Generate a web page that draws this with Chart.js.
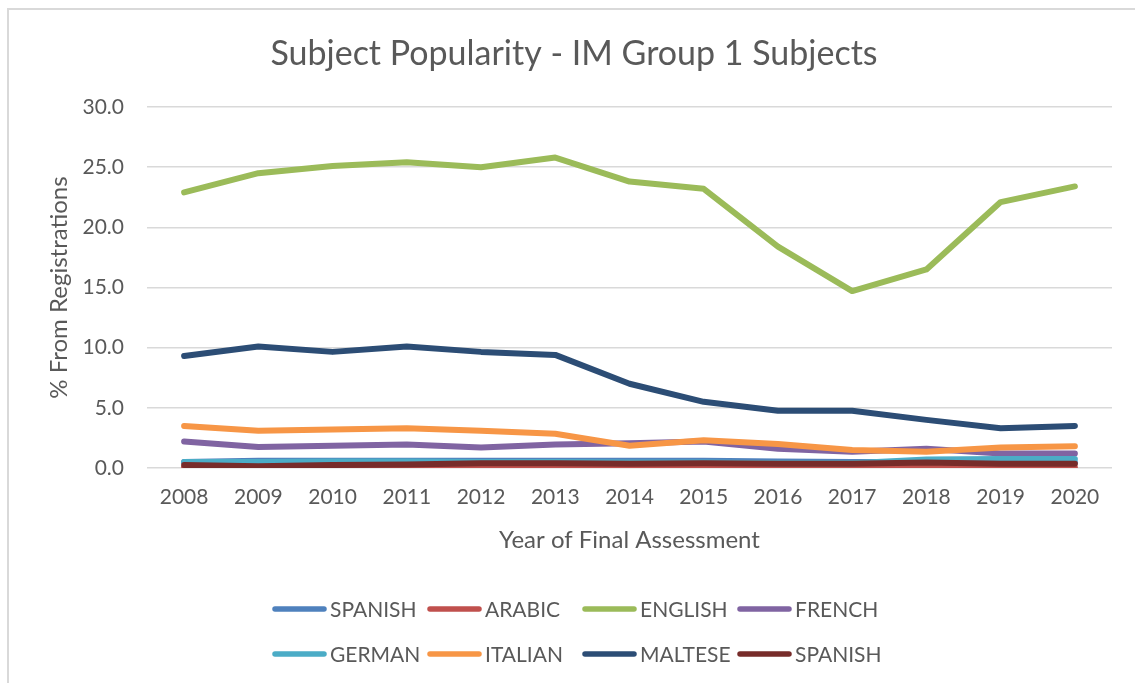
<!DOCTYPE html>
<html>
<head>
<meta charset="utf-8">
<script src="https://cdn.jsdelivr.net/npm/chart.js@4/dist/chart.umd.min.js"></script>
<style>
  html, body { margin: 0; padding: 0; background: #fff; overflow: hidden; }
  #frame { position: absolute; left: 7px; top: 8px; width: 1300px; height: 900px; border: 2px solid #d9d9d9; box-sizing: border-box; }
  #c { position: absolute; left: 0; top: 0; }
</style>
</head>
<body>
<div id="frame"></div>
<canvas id="c" width="1135" height="683"></canvas>
<script>
const years = ['2008','2009','2010','2011','2012','2013','2014','2015','2016','2017','2018','2019','2020'];
const seriesNames = ['SPANISH','ARABIC','ENGLISH','FRENCH','GERMAN','ITALIAN','MALTESE','SPANISH'];
const seriesColors = ['#4F81BD','#C0504D','#9BBB59','#8064A2','#4BACC6','#F79646','#2C4D75','#772C2A'];

const spanish1 = [0.50, 0.60, 0.60, 0.60, 0.60, 0.60, 0.60, 0.60, 0.55, 0.50, 0.50, 0.45, 0.45];
const arabic   = [0.05, 0.05, 0.05, 0.05, 0.05, 0.05, 0.05, 0.05, 0.05, 0.05, 0.05, 0.05, 0.05];
const english  = [22.9, 24.5, 25.1, 25.4, 25.0, 25.8, 23.8, 23.2, 18.4, 14.7, 16.5, 22.1, 23.4];
const french   = [2.2, 1.75, 1.85, 1.95, 1.7, 1.95, 2.05, 2.2, 1.6, 1.35, 1.6, 1.2, 1.2];
const german   = [0.50, 0.50, 0.55, 0.55, 0.50, 0.50, 0.45, 0.45, 0.40, 0.40, 0.70, 0.75, 0.75];
const italian  = [3.5, 3.1, 3.2, 3.3, 3.1, 2.85, 1.85, 2.3, 2.0, 1.5, 1.35, 1.7, 1.8];
const maltese  = [9.3, 10.1, 9.65, 10.1, 9.65, 9.4, 7.0, 5.5, 4.75, 4.75, 4.0, 3.3, 3.5];
const spanish2 = [0.25, 0.15, 0.25, 0.30, 0.40, 0.40, 0.35, 0.40, 0.35, 0.35, 0.45, 0.35, 0.35];

const seriesValues = [spanish1, arabic, english, french, german, italian, maltese, spanish2];
const yTicks = [0, 5, 10, 15, 20, 25, 30];

const TEXT = '#595959';
const FONT = 'Lato, "Open Sans", sans-serif';

const datasets = seriesNames.map((name, i) => ({
  label: name,
  data: seriesValues[i],
  borderColor: seriesColors[i],
  backgroundColor: seriesColors[i],
  borderWidth: 6,
  pointRadius: 0,
  pointHoverRadius: 0,
  tension: 0,
  borderCapStyle: 'round',
  borderJoinStyle: 'round',
  fill: false,
  order: seriesNames.length - i
}));

const legendPlugin = {
  id: 'excelLegend',
  afterDraw(chart) {
    const ctx = chart.ctx;
    const colW = 155;
    const start = Math.round(chart.width / 2 - 296);
    const rows = [609, 654];
    ctx.save();
    ctx.font = '21px ' + FONT;
    ctx.textBaseline = 'middle';
    ctx.textAlign = 'left';
    chart.data.datasets.forEach((ds, i) => {
      const col = i % 4, row = Math.floor(i / 4);
      const x0 = start + col * colW;
      const y = rows[row];
      ctx.strokeStyle = ds.borderColor;
      ctx.lineWidth = 5.5;
      ctx.lineCap = 'round';
      ctx.beginPath();
      ctx.moveTo(x0 + 3, y);
      ctx.lineTo(x0 + 52, y);
      ctx.stroke();
      ctx.fillStyle = TEXT;
      ctx.fillText(ds.label, x0 + 58, y + 1);
    });
    ctx.restore();
  }
};

new Chart(document.getElementById('c'), {
  type: 'line',
  data: { labels: years, datasets },
  options: {
    responsive: false,
    animation: false,
    events: [],
    layout: { padding: { left: 36, right: 23, top: 0, bottom: 125 } },
    plugins: {
      legend: { display: false },
      tooltip: { enabled: false },
      title: {
        display: true,
        text: 'Subject Popularity - IM Group 1 Subjects',
        color: TEXT,
        font: { family: FONT, size: 34, weight: 'normal', lineHeight: 1.2 },
        padding: { top: 33.6, bottom: 32.6 }
      }
    },
    scales: {
      x: {
        offset: true,
        grid: { display: false, drawTicks: false },
        border: { display: false },
        ticks: { color: TEXT, font: { family: FONT, size: 21 }, padding: 17, maxRotation: 0 },
        title: {
          display: true,
          text: 'Year of Final Assessment',
          color: TEXT,
          font: { family: FONT, size: 24, lineHeight: 1.2 },
          padding: { top: 0, bottom: 3.6 }
        },
        afterFit(scale) { scale.height = 90; }
      },
      y: {
        min: 0,
        max: 30,
        afterBuildTicks(scale) { scale.ticks = yTicks.map(v => ({ value: v })); },
        grid: { color: '#d9d9d9', lineWidth: 1.5, drawTicks: false },
        border: { display: false },
        ticks: {
          color: TEXT,
          font: { family: FONT, size: 21 },
          padding: 23,
          callback: v => Number(v).toFixed(1)
        },
        title: {
          display: true,
          text: '% From Registrations',
          color: TEXT,
          font: { family: FONT, size: 24, lineHeight: 1.2 },
          padding: { top: 8.6, bottom: 0 }
        },
        afterFit(scale) { scale.width = 111; }
      }
    }
  },
  plugins: [legendPlugin]
});
</script>
</body>
</html>
